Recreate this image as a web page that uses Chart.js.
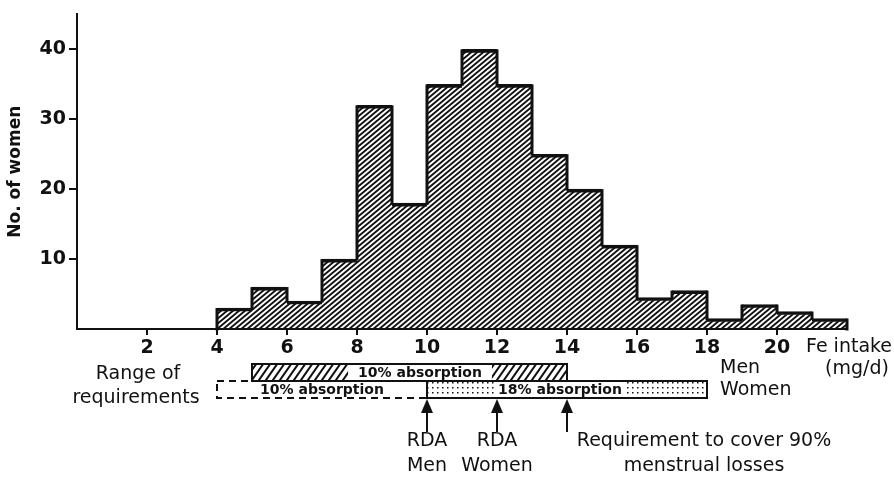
<!DOCTYPE html>
<html>
<head>
<meta charset="utf-8">
<script src="https://cdn.jsdelivr.net/npm/chart.js@4.4.1/dist/chart.umd.min.js"></script>
<style>
  body { margin: 0; background: #fff; }
  #wrap { width: 894px; height: 482px; position: relative; }
</style>
</head>
<body>
<div id="wrap"><canvas id="chart"></canvas></div>
<script>
// Fe intake histogram, 1 mg/d bins
const binStarts = [4, 5, 6, 7, 8, 9, 10, 11, 12, 13, 14, 15, 16, 17, 18, 19, 20, 21];
const counts = [3, 6, 4, 10, 32, 18, 35, 40, 35, 25, 20, 12, 4.5, 5.5, 1.5, 3.5, 2.5, 1.5];
const xTickLabels = [2, 4, 6, 8, 10, 12, 14, 16, 18, 20];
const yTickLabels = [10, 20, 30, 40];

// range of requirements (mg/d) drawn under the axis
const menRange = [5, 14];
const women10Range = [4, 10];
const women18Range = [10, 18];
const arrowAt = [10, 12, 14];
const arrowLabels = [["RDA", "Men"], ["RDA", "Women"], ["Requirement to cover 90%", "menstrual losses"]];

const ink = '#111';
const font = 'DejaVu Sans';

// diagonal line tile, w x h, lines running lower-left to upper-right
function makeHatch(w, h, width) {
    const c = document.createElement('canvas');
    c.width = w; c.height = h;
    const g = c.getContext('2d');
    g.strokeStyle = ink;
    g.lineWidth = width;
    g.beginPath();
    for (let k = 0; k <= 2; k++) {
        g.moveTo(-w, (k + 1) * h);
        g.lineTo(2 * w, (k - 2) * h);
    }
    g.stroke();
    return g.createPattern(c, 'repeat');
}

function makeDots(w, h) {
    const c = document.createElement('canvas');
    c.width = w; c.height = h;
    const g = c.getContext('2d');
    g.fillStyle = ink;
    g.fillRect(2, 2, 1.5, 1.5);
    return g.createPattern(c, 'repeat');
}

const hatchFill = makeHatch(6, 5, 1.9);
const menHatch = makeHatch(7, 10, 2);
const dotFill = makeDots(5, 5);

// vertical risers of the histogram outline, only between the two bar tops
const stepOutline = {
    id: 'stepOutline',
    afterDatasetsDraw(chart) {
        const ctx = chart.ctx;
        const xs = chart.scales.x, ys = chart.scales.y;
        ctx.save();
        ctx.strokeStyle = ink;
        ctx.lineWidth = 3;
        ctx.lineCap = 'butt';
        for (let i = 0; i <= counts.length; i++) {
            const edge = i < counts.length ? binStarts[i] : binStarts[i - 1] + 1;
            const a = i > 0 ? counts[i - 1] : 0;
            const b = i < counts.length ? counts[i] : 0;
            const x = xs.getPixelForValue(edge);
            ctx.beginPath();
            ctx.moveTo(x, ys.getPixelForValue(Math.min(a, b)) + 1.5);
            ctx.lineTo(x, ys.getPixelForValue(Math.max(a, b)));
            ctx.stroke();
        }
        ctx.restore();
    }
};

const annotations = {
    id: 'annotations',
    afterDraw(chart) {
        const ctx = chart.ctx;
        const xs = chart.scales.x;
        const px = v => xs.getPixelForValue(v);
        ctx.save();
        ctx.textBaseline = 'middle';

        // women 10% absorption: dashed box
        const mTop = 364, mBot = 381, wBot = 398;
        ctx.setLineDash([7, 5]);
        ctx.lineWidth = 2;
        ctx.strokeStyle = ink;
        ctx.strokeRect(px(women10Range[0]), mBot, px(women10Range[1]) - px(women10Range[0]), wBot - mBot);
        ctx.setLineDash([]);

        // women 18% absorption: dotted box
        const dx0 = px(women18Range[0]), dx1 = px(women18Range[1]);
        ctx.fillStyle = '#fff';
        ctx.fillRect(dx0, mBot, dx1 - dx0, wBot - mBot);
        ctx.fillStyle = dotFill;
        ctx.fillRect(dx0, mBot, dx1 - dx0, wBot - mBot);
        ctx.strokeRect(dx0, mBot, dx1 - dx0, wBot - mBot);

        // men 10% absorption: hatched box
        const mx0 = px(menRange[0]), mx1 = px(menRange[1]);
        ctx.fillStyle = menHatch;
        ctx.fillRect(mx0, mTop, mx1 - mx0, mBot - mTop);
        ctx.strokeRect(mx0, mTop, mx1 - mx0, mBot - mTop);

        // labels inside the bars, on white
        ctx.font = 'bold 14px "' + font + '"';
        ctx.textAlign = 'center';
        const boxLabel = (txt, cx, y0, y1, pad) => {
            const w = ctx.measureText(txt).width;
            ctx.fillStyle = '#fff';
            ctx.fillRect(cx - w / 2 - pad, y0 + 1, w + pad * 2, y1 - y0 - 2);
            ctx.fillStyle = ink;
            ctx.fillText(txt, cx, (y0 + y1) / 2 + 1);
        };
        boxLabel('10% absorption', px(9.8), mTop, mBot, 10);
        boxLabel('10% absorption', px(7.0), mBot, wBot, 0);
        boxLabel('18% absorption', px(13.8), mBot, wBot, 2);

        // arrows
        ctx.fillStyle = ink;
        arrowAt.forEach(v => {
            const x = px(v);
            ctx.beginPath();
            ctx.moveTo(x, wBot + 1);
            ctx.lineTo(x - 6, wBot + 15);
            ctx.lineTo(x + 6, wBot + 15);
            ctx.closePath();
            ctx.fill();
            ctx.fillRect(x - 1, wBot + 14, 2, 20);
        });

        // text labels
        ctx.font = '19px "' + font + '"';
        const labelShift = [0, 0, 137];
        arrowLabels.forEach((lines, i) => {
            const x = px(arrowAt[i]) + labelShift[i];
            ctx.fillText(lines[0], x, 441);
            ctx.fillText(lines[1], x, 466);
        });
        ctx.fillText('Range of', 138, 374);
        ctx.fillText('requirements', 136, 398);
        ctx.textAlign = 'left';
        ctx.fillText('Men', 720, 368);
        ctx.fillText('Women', 720, 390);
        ctx.fillText('Fe intake', 806, 347);
        ctx.fillText('(mg/d)', 825, 369);
        ctx.restore();
    }
};

const ctx = document.getElementById('chart').getContext('2d');
new Chart(ctx, {
    type: 'bar',
    data: {
        datasets: [{
            data: binStarts.map((b, i) => ({ x: b + 0.5, y: counts[i] })),
            backgroundColor: hatchFill,
            borderColor: ink,
            borderWidth: { top: 3, left: 0, right: 0, bottom: 0 },
            borderSkipped: false,
            barPercentage: 1,
            categoryPercentage: 1
        }]
    },
    options: {
        responsive: true,
        maintainAspectRatio: false,
        animation: false,
        layout: { padding: { top: 8, right: 47, left: 0, bottom: 0 } },
        plugins: {
            legend: { display: false },
            tooltip: { enabled: false }
        },
        scales: {
            x: {
                type: 'linear',
                min: 0,
                max: 22,
                offset: false,
                grid: {
                    offset: false,
                    drawOnChartArea: false,
                    tickLength: 6,
                    lineWidth: 2,
                    color: c => xTickLabels.includes(c.tick && c.tick.value) ? ink : 'rgba(0,0,0,0)'
                },
                border: { display: true, color: ink, width: 2 },
                ticks: {
                    stepSize: 2,
                    autoSkip: false,
                    maxRotation: 0,
                    padding: 2,
                    color: ink,
                    font: { family: font, size: 19, weight: 'bold' },
                    callback: v => xTickLabels.includes(v) ? String(v) : ''
                },
                afterFit: s => { s.height = 482 - 329; }
            },
            y: {
                min: 0,
                max: 45,
                grid: {
                    drawOnChartArea: false,
                    tickLength: 8,
                    lineWidth: 2,
                    color: c => yTickLabels.includes(c.tick && c.tick.value) ? ink : 'rgba(0,0,0,0)'
                },
                border: { display: true, color: ink, width: 2 },
                ticks: {
                    stepSize: 10,
                    includeBounds: false,
                    padding: 3,
                    color: ink,
                    font: { family: font, size: 19, weight: 'bold' },
                    callback: v => yTickLabels.includes(v) ? String(v) : ''
                },
                title: {
                    display: true,
                    text: 'No. of women',
                    color: ink,
                    padding: { top: 5, bottom: 0 },
                    font: { family: font, size: 17, weight: 'bold' }
                },
                afterFit: s => { s.width = 77; }
            }
        }
    },
    plugins: [stepOutline, annotations]
});
</script>
</body>
</html>
